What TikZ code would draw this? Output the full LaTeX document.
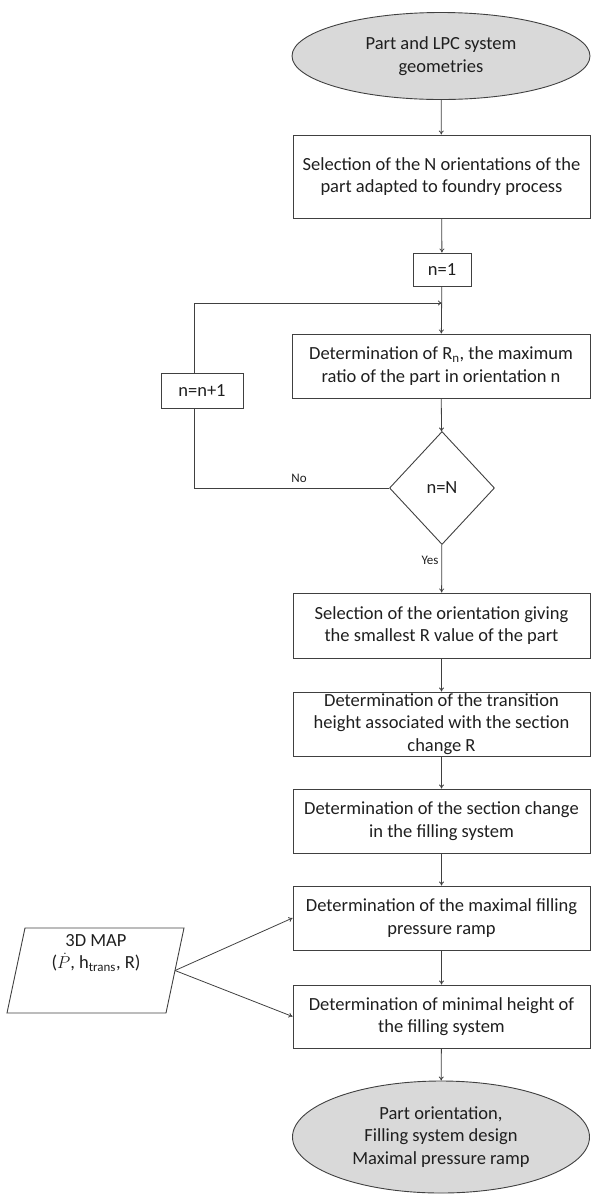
\documentclass[tikz,border=0pt]{standalone}
\usepackage{fontspec}
\setmainfont{Carlito}
\usetikzlibrary{shapes.geometric,arrows.meta}
\definecolor{ln}{HTML}{404040}
\definecolor{fillg}{HTML}{D9D9D9}
\tikzset{
  x=1pt,y=-1pt,
  every node/.style={font=\fontsize{18.5}{22.5}\selectfont, text=black!88, align=center},
  proc/.style={draw=ln, line width=0.9pt, rectangle, inner sep=0pt},
  term/.style={draw=ln, line width=0.9pt, ellipse, fill=fillg, inner sep=0pt},
  dec/.style={draw=ln, line width=0.9pt, diamond, inner sep=0pt},
  conn/.style={draw=ln, line width=0.8pt, -{To[length=4pt,width=5pt]}},
  plain/.style={draw=ln, line width=0.8pt},
  small/.style={font=\fontsize{13}{15}\selectfont}
}
\begin{document}
\begin{tikzpicture}
\useasboundingbox (0,0) rectangle (591,1195);
\node[term, minimum width=298, minimum height=87] (start) at (441,56) {Part and LPC system\\geometries};
\node[proc, minimum width=297, minimum height=83] (sel1) at (441.5,176.5) {Selection of the N orientations of the\\part adapted to foundry process};
\node[proc, minimum width=58, minimum height=33] (n1) at (442,269.5) {n=1};
\node[proc, minimum width=298, minimum height=64] (rn) at (441,366) {Determination of R\textsubscript{n}, the maximum\\ratio of the part in orientation n};
\node[dec, minimum width=105, minimum height=113] (dec) at (442,488) {n=N};
\node[proc, minimum width=82, minimum height=35] (inc) at (202,390.5) {n=n+1};
\node[proc, minimum width=297, minimum height=65] (sel2) at (441.5,625.5) {Selection of the orientation giving\\the smallest R value of the part};
\node[proc, minimum width=297, minimum height=64] (trans) at (441.5,724) {Determination of the transition\\height associated with the section\\change R};
\node[proc, minimum width=297, minimum height=64] (sect) at (441.5,821) {Determination of the section change\\in the filling system};
\node[proc, minimum width=297, minimum height=64] (maxf) at (441.5,918) {Determination of the maximal filling\\pressure ramp};
\node[proc, minimum width=297, minimum height=63] (minh) at (441.5,1016.5) {Determination of minimal height of\\the filling system};
\node[term, minimum width=297, minimum height=112] (end) at (441,1137) {Part orientation,\\Filling system design\\Maximal pressure ramp};
% parallelogram
\coordinate (p1) at (25,928);
\coordinate (p2) at (184,928);
\coordinate (p3) at (166,1013);
\coordinate (p4) at (7,1013);
\coordinate (pr) at (175,970.5);
\draw[draw=ln, line width=0.9pt] (p1) -- (p2) -- (p3) -- (p4) -- cycle;
\node (map) at (96,953) {3D MAP\\(\smash{$\dot{P}$}, h\textsubscript{trans}, R)};
% connectors
\coordinate (j) at (442,303);
\coordinate (lt) at (194,303);
\coordinate (lb) at (194,488);
\draw[conn] (start) -- (sel1);
\draw[conn] (sel1) -- (n1);
\draw[conn] (n1) -- (rn);
\draw[conn] (rn) -- (dec);
\draw[plain] (dec.west) -- (lb) -- (lb |- inc.south);
\draw[conn] (lt |- inc.north) -- (lt) -- (j);
\draw[conn] (dec) -- (sel2);
\draw[conn] (sel2) -- (trans);
\draw[conn] (trans) -- (sect);
\draw[conn] (sect) -- (maxf);
\draw[conn] (maxf) -- (minh);
\draw[conn] (minh) -- (end);
\draw[conn] (pr) -- (maxf.west);
\draw[conn] (pr) -- (minh.west);
\node[small] (no) at (299,478) {No};
\node[small] (yes) at (430,560) {Yes};
\end{tikzpicture}
\end{document}
